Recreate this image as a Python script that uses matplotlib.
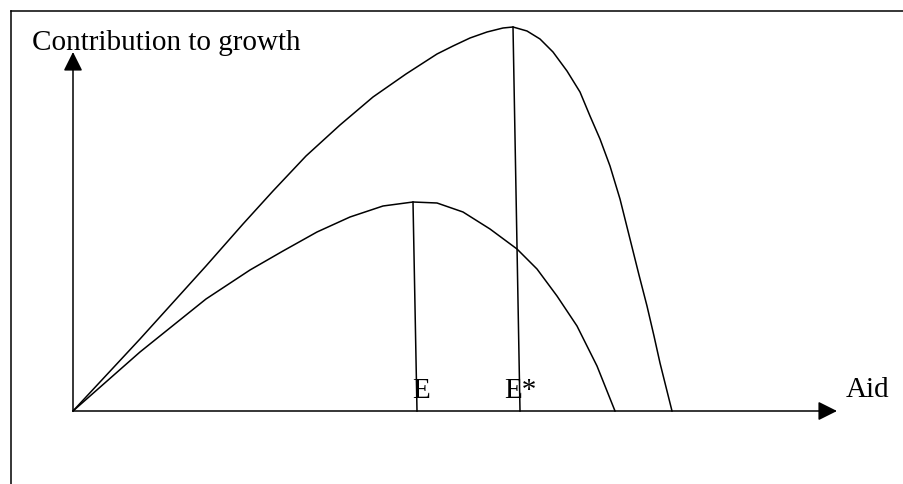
import matplotlib.pyplot as plt

# curves (x = aid, y = contribution to growth)
upper_x = [0, 67, 133, 170, 200, 233, 267, 300, 333, 364, 380, 397, 414, 430, 440,
           454, 467, 480, 494, 507, 517, 527, 537, 547, 557, 566, 574, 581, 587, 594, 599]
upper_y = [0, 72, 145, 187, 220, 255, 286, 314, 337, 357, 365, 373, 379, 383, 384,
           380, 372, 359, 340, 319, 295, 272, 245, 212, 172, 136, 105, 75, 48, 20, 0]
lower_x = [0, 67, 133, 177, 210, 244, 277, 310, 340, 364, 390, 417, 444, 464, 484, 504, 524, 542]
lower_y = [0, 59, 112, 141, 160, 179, 194, 205, 209, 208, 199, 182, 162, 142, 115, 85, 45, 0]

# drop lines from the peaks to the axis
e_x = [340, 344]
e_y = [209, 0]
estar_x = [440, 447]
estar_y = [384, 0]

x_label = "Aid"
y_label = "Contribution to growth"
e_labels = ["E", "E*"]
e_label_x = [339, 431]

font = "Liberation Serif"
lw = 1.1

fig = plt.figure(figsize=(9.04, 4.85), dpi=100)
ax = fig.add_axes([0, 0, 1, 1])
ax.set_xlim(-73, 831)
ax.set_ylim(-73, 412)
ax.axis("off")

# frame (top and left only)
ax.plot([-62, 831], [400, 400], color="black", lw=lw, clip_on=False)
ax.plot([-62, -62], [400, -73], color="black", lw=lw, clip_on=False)

# axes arrows
arrow = dict(arrowstyle="-|>,head_length=0.4,head_width=0.2", mutation_scale=29,
             color="black", lw=lw, shrinkA=0, shrinkB=0)
ax.annotate("", xy=(764, 0), xytext=(0, 0), arrowprops=arrow)
ax.annotate("", xy=(0, 359), xytext=(0, 0), arrowprops=arrow)

ax.plot(upper_x, upper_y, color="black", lw=lw, solid_joinstyle="round")
ax.plot(lower_x, lower_y, color="black", lw=lw, solid_joinstyle="round")
ax.plot(e_x, e_y, color="black", lw=lw)
ax.plot(estar_x, estar_y, color="black", lw=lw)

ax.text(-41, 362, y_label, family=font, fontsize=21, va="baseline", ha="left")
ax.text(773, 15, x_label, family=font, fontsize=21, va="baseline", ha="left")
for lab, lx in zip(e_labels, e_label_x):
    ax.text(lx, 14, lab, family=font, fontsize=21, va="baseline", ha="left")

fig.savefig("out.png", dpi=100)
